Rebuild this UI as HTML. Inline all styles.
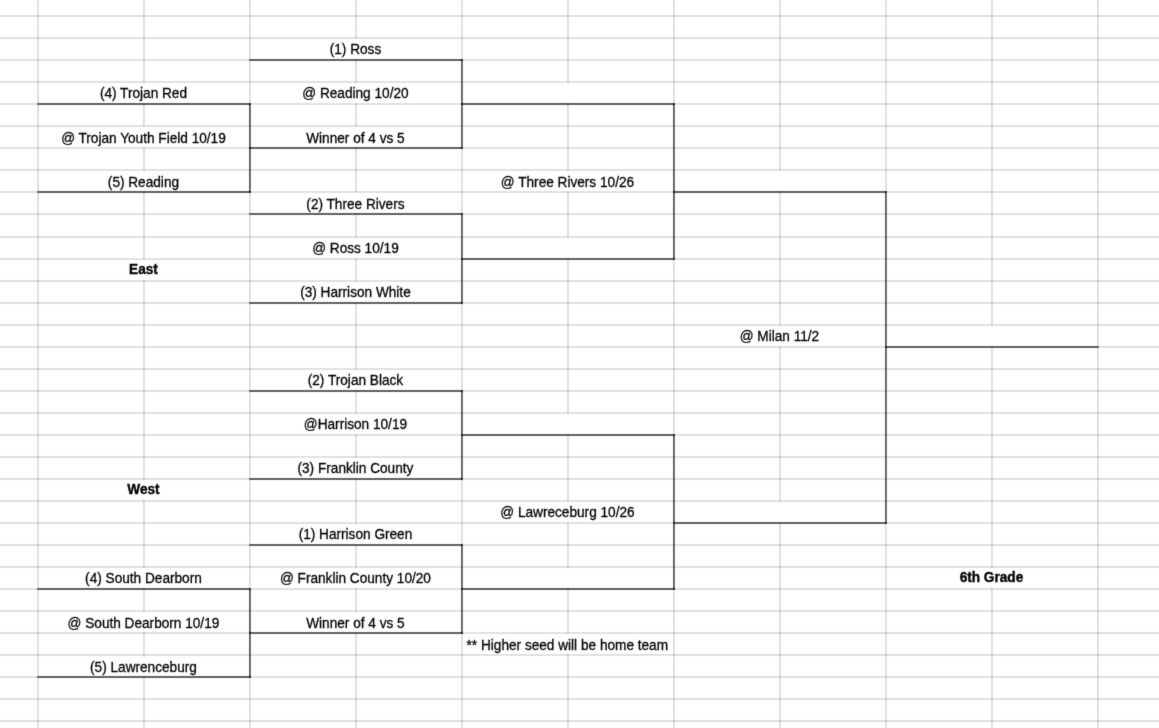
<!DOCTYPE html>
<html><head><meta charset="utf-8"><title>6th Grade Bracket</title>
<style>html,body{margin:0;padding:0;background:#fff;}body{width:1159px;height:728px;overflow:hidden;}svg{display:block;}</style>
</head><body>
<svg width="1159" height="728" viewBox="0 0 1159 728">
<defs><filter id="soft" x="0" y="0" width="100%" height="100%" color-interpolation-filters="sRGB"><feConvolveMatrix order="3" kernelMatrix="0.0113 0.0838 0.0113 0.0838 0.6193 0.0838 0.0113 0.0838 0.0113" divisor="1" edgeMode="duplicate" preserveAlpha="true"/></filter></defs>
<rect width="1159" height="728" fill="#fff"/>
<g filter="url(#soft)">
<rect width="1159" height="728" fill="#fff"/>
<g stroke="#000" stroke-opacity="0.16" stroke-width="1.5" fill="none">
<line x1="0" x2="1159" y1="15.95" y2="15.95"/>
<line x1="0" x2="1159" y1="37.95" y2="37.95"/>
<line x1="0" x2="1159" y1="59.95" y2="59.95"/>
<line x1="0" x2="1159" y1="81.95" y2="81.95"/>
<line x1="0" x2="1159" y1="103.95" y2="103.95"/>
<line x1="0" x2="1159" y1="125.95" y2="125.95"/>
<line x1="0" x2="1159" y1="147.95" y2="147.95"/>
<line x1="0" x2="1159" y1="169.95" y2="169.95"/>
<line x1="0" x2="1159" y1="191.95" y2="191.95"/>
<line x1="0" x2="1159" y1="213.95" y2="213.95"/>
<line x1="0" x2="1159" y1="236.95" y2="236.95"/>
<line x1="0" x2="1159" y1="258.95" y2="258.95"/>
<line x1="0" x2="1159" y1="280.95" y2="280.95"/>
<line x1="0" x2="1159" y1="302.95" y2="302.95"/>
<line x1="0" x2="1159" y1="324.95" y2="324.95"/>
<line x1="0" x2="1159" y1="346.95" y2="346.95"/>
<line x1="0" x2="1159" y1="368.95" y2="368.95"/>
<line x1="0" x2="1159" y1="390.95" y2="390.95"/>
<line x1="0" x2="1159" y1="412.95" y2="412.95"/>
<line x1="0" x2="1159" y1="434.95" y2="434.95"/>
<line x1="0" x2="1159" y1="456.95" y2="456.95"/>
<line x1="0" x2="1159" y1="478.95" y2="478.95"/>
<line x1="0" x2="1159" y1="500.95" y2="500.95"/>
<line x1="0" x2="1159" y1="522.95" y2="522.95"/>
<line x1="0" x2="1159" y1="544.95" y2="544.95"/>
<line x1="0" x2="1159" y1="566.95" y2="566.95"/>
<line x1="0" x2="1159" y1="588.95" y2="588.95"/>
<line x1="0" x2="1159" y1="610.95" y2="610.95"/>
<line x1="0" x2="1159" y1="632.95" y2="632.95"/>
<line x1="0" x2="1159" y1="654.95" y2="654.95"/>
<line x1="0" x2="1159" y1="676.95" y2="676.95"/>
<line x1="0" x2="1159" y1="698.95" y2="698.95"/>
<line x1="0" x2="1159" y1="720.95" y2="720.95"/>
<line y1="0" y2="728" x1="37.95" x2="37.95"/>
<line y1="0" y2="728" x1="143.95" x2="143.95"/>
<line y1="0" y2="728" x1="249.95" x2="249.95"/>
<line y1="0" y2="728" x1="355.95" x2="355.95"/>
<line y1="0" y2="728" x1="461.95" x2="461.95"/>
<line y1="0" y2="728" x1="567.95" x2="567.95"/>
<line y1="0" y2="728" x1="673.95" x2="673.95"/>
<line y1="0" y2="728" x1="779.95" x2="779.95"/>
<line y1="0" y2="728" x1="885.95" x2="885.95"/>
<line y1="0" y2="728" x1="991.95" x2="991.95"/>
<line y1="0" y2="728" x1="1097.95" x2="1097.95"/>
</g>
<g fill="#fff">
<rect x="141.95" y="82.85" width="4" height="20.2"/>
<rect x="141.95" y="126.85" width="4" height="20.2"/>
<rect x="141.95" y="170.85" width="4" height="20.2"/>
<rect x="141.95" y="259.85" width="4" height="20.2"/>
<rect x="141.95" y="479.85" width="4" height="20.2"/>
<rect x="141.95" y="567.85" width="4" height="20.2"/>
<rect x="141.95" y="611.85" width="4" height="20.2"/>
<rect x="141.95" y="655.85" width="4" height="20.2"/>
<rect x="353.95" y="38.85" width="4" height="20.2"/>
<rect x="353.95" y="82.85" width="4" height="20.2"/>
<rect x="353.95" y="126.85" width="4" height="20.2"/>
<rect x="353.95" y="192.85" width="4" height="20.2"/>
<rect x="353.95" y="237.85" width="4" height="20.2"/>
<rect x="353.95" y="281.85" width="4" height="20.2"/>
<rect x="353.95" y="369.85" width="4" height="20.2"/>
<rect x="353.95" y="413.85" width="4" height="20.2"/>
<rect x="353.95" y="457.85" width="4" height="20.2"/>
<rect x="353.95" y="523.85" width="4" height="20.2"/>
<rect x="353.95" y="567.85" width="4" height="20.2"/>
<rect x="353.95" y="611.85" width="4" height="20.2"/>
<rect x="565.95" y="170.85" width="4" height="20.2"/>
<rect x="565.95" y="501.85" width="4" height="20.2"/>
<rect x="565.95" y="633.85" width="4" height="20.2"/>
<rect x="777.95" y="325.85" width="4" height="20.2"/>
<rect x="989.95" y="567.85" width="4" height="20.2"/>
<rect x="565.95" y="82.85" width="4" height="20.2"/>
<rect x="565.95" y="237.85" width="4" height="20.2"/>
<rect x="565.95" y="413.85" width="4" height="20.2"/>
<rect x="565.95" y="567.85" width="4" height="20.2"/>
<rect x="777.95" y="170.85" width="4" height="20.2"/>
<rect x="777.95" y="501.85" width="4" height="20.2"/>
<rect x="989.95" y="325.85" width="4" height="20.2"/>
</g>
<g stroke="#000" stroke-opacity="0.76" stroke-width="1.4" fill="none" stroke-linecap="square">
<line x1="249.95" x2="461.95" y1="59.95" y2="59.95"/>
<line x1="37.95" x2="249.95" y1="103.95" y2="103.95"/>
<line x1="461.95" x2="673.95" y1="103.95" y2="103.95"/>
<line x1="249.95" x2="461.95" y1="147.95" y2="147.95"/>
<line x1="37.95" x2="249.95" y1="191.95" y2="191.95"/>
<line x1="673.95" x2="885.95" y1="191.95" y2="191.95"/>
<line x1="249.95" x2="461.95" y1="213.95" y2="213.95"/>
<line x1="461.95" x2="673.95" y1="258.95" y2="258.95"/>
<line x1="249.95" x2="461.95" y1="302.95" y2="302.95"/>
<line x1="885.95" x2="1097.95" y1="346.95" y2="346.95"/>
<line x1="249.95" x2="461.95" y1="390.95" y2="390.95"/>
<line x1="461.95" x2="673.95" y1="434.95" y2="434.95"/>
<line x1="249.95" x2="461.95" y1="478.95" y2="478.95"/>
<line x1="673.95" x2="885.95" y1="522.95" y2="522.95"/>
<line x1="249.95" x2="461.95" y1="544.95" y2="544.95"/>
<line x1="37.95" x2="249.95" y1="588.95" y2="588.95"/>
<line x1="461.95" x2="673.95" y1="588.95" y2="588.95"/>
<line x1="249.95" x2="461.95" y1="632.95" y2="632.95"/>
<line x1="37.95" x2="249.95" y1="676.95" y2="676.95"/>
<line x1="249.95" x2="249.95" y1="103.95" y2="191.95"/>
<line x1="249.95" x2="249.95" y1="588.95" y2="676.95"/>
<line x1="461.95" x2="461.95" y1="59.95" y2="147.95"/>
<line x1="461.95" x2="461.95" y1="213.95" y2="302.95"/>
<line x1="461.95" x2="461.95" y1="390.95" y2="478.95"/>
<line x1="461.95" x2="461.95" y1="544.95" y2="632.95"/>
<line x1="673.95" x2="673.95" y1="103.95" y2="258.95"/>
<line x1="673.95" x2="673.95" y1="434.95" y2="588.95"/>
<line x1="885.95" x2="885.95" y1="191.95" y2="522.95"/>
</g>
<g fill="#000" fill-opacity="0.55">
<rect x="461.25" y="59.25" width="1.4" height="1.4"/>
<rect x="249.25" y="103.25" width="1.4" height="1.4"/>
<rect x="461.25" y="103.25" width="1.4" height="1.4"/>
<rect x="673.25" y="103.25" width="1.4" height="1.4"/>
<rect x="249.25" y="147.25" width="1.4" height="1.4"/>
<rect x="461.25" y="147.25" width="1.4" height="1.4"/>
<rect x="249.25" y="191.25" width="1.4" height="1.4"/>
<rect x="673.25" y="191.25" width="1.4" height="1.4"/>
<rect x="885.25" y="191.25" width="1.4" height="1.4"/>
<rect x="461.25" y="213.25" width="1.4" height="1.4"/>
<rect x="461.25" y="258.25" width="1.4" height="1.4"/>
<rect x="673.25" y="258.25" width="1.4" height="1.4"/>
<rect x="461.25" y="302.25" width="1.4" height="1.4"/>
<rect x="885.25" y="346.25" width="1.4" height="1.4"/>
<rect x="461.25" y="390.25" width="1.4" height="1.4"/>
<rect x="461.25" y="434.25" width="1.4" height="1.4"/>
<rect x="673.25" y="434.25" width="1.4" height="1.4"/>
<rect x="461.25" y="478.25" width="1.4" height="1.4"/>
<rect x="673.25" y="522.25" width="1.4" height="1.4"/>
<rect x="885.25" y="522.25" width="1.4" height="1.4"/>
<rect x="461.25" y="544.25" width="1.4" height="1.4"/>
<rect x="249.25" y="588.25" width="1.4" height="1.4"/>
<rect x="461.25" y="588.25" width="1.4" height="1.4"/>
<rect x="673.25" y="588.25" width="1.4" height="1.4"/>
<rect x="249.25" y="632.25" width="1.4" height="1.4"/>
<rect x="461.25" y="632.25" width="1.4" height="1.4"/>
<rect x="249.25" y="676.25" width="1.4" height="1.4"/>
</g>
<g font-family="'Liberation Sans', Arial, sans-serif" font-size="13.65" fill="#000" stroke="#000" stroke-width="0.28" stroke-linejoin="round">
<text transform="translate(143.45 97.75) scale(1 1.02)" text-anchor="middle">(4) Trojan Red</text>
<text transform="translate(143.45 142.5) scale(1 1.02)" text-anchor="middle">@ Trojan Youth Field 10/19</text>
<text transform="translate(143.45 186.5) scale(1 1.02)" text-anchor="middle">(5) Reading</text>
<text transform="translate(143.45 274.45) scale(1 1.01)" text-anchor="middle" font-weight="bold" stroke-width="0.35">East</text>
<text transform="translate(143.45 494.45) scale(1 1.01)" text-anchor="middle" font-weight="bold" stroke-width="0.35">West</text>
<text transform="translate(143.45 582.75) scale(1 1.02)" text-anchor="middle">(4) South Dearborn</text>
<text transform="translate(143.45 627.5) scale(1 1.02)" text-anchor="middle">@ South Dearborn 10/19</text>
<text transform="translate(143.45 671.5) scale(1 1.02)" text-anchor="middle">(5) Lawrenceburg</text>
<text transform="translate(355.45 53.75) scale(1 1.02)" text-anchor="middle">(1) Ross</text>
<text transform="translate(355.45 97.75) scale(1 1.02)" text-anchor="middle">@ Reading 10/20</text>
<text transform="translate(355.45 142.5) scale(1 1.02)" text-anchor="middle">Winner of 4 vs 5</text>
<text transform="translate(355.45 208.5) scale(1 1.02)" text-anchor="middle">(2) Three Rivers</text>
<text transform="translate(355.45 252.75) scale(1 1.02)" text-anchor="middle">@ Ross 10/19</text>
<text transform="translate(355.45 296.75) scale(1 1.02)" text-anchor="middle">(3) Harrison White</text>
<text transform="translate(355.45 384.75) scale(1 1.02)" text-anchor="middle">(2) Trojan Black</text>
<text transform="translate(355.45 428.75) scale(1 1.02)" text-anchor="middle">@Harrison 10/19</text>
<text transform="translate(355.45 472.75) scale(1 1.02)" text-anchor="middle">(3) Franklin County</text>
<text transform="translate(355.45 538.75) scale(1 1.02)" text-anchor="middle">(1) Harrison Green</text>
<text transform="translate(355.45 582.75) scale(1 1.02)" text-anchor="middle">@ Franklin County 10/20</text>
<text transform="translate(355.45 627.5) scale(1 1.02)" text-anchor="middle">Winner of 4 vs 5</text>
<text transform="translate(567.45 186.5) scale(1 1.02)" text-anchor="middle">@ Three Rivers 10/26</text>
<text transform="translate(567.45 516.75) scale(1 1.02)" text-anchor="middle">@ Lawreceburg 10/26</text>
<text transform="translate(466.55 649.5) scale(1 1.02)" text-anchor="start">** Higher seed will be home team</text>
<text transform="translate(779.45 340.75) scale(1 1.02)" text-anchor="middle">@ Milan 11/2</text>
<text transform="translate(991.45 582.45) scale(1 1.01)" text-anchor="middle" font-weight="bold" stroke-width="0.35">6th Grade</text>
</g>
</g>
</svg>
</body></html>
